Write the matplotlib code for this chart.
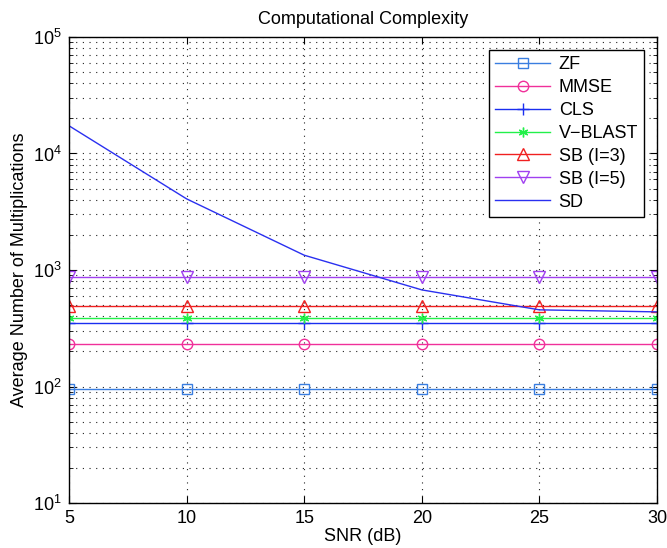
import matplotlib
matplotlib.use("Agg")
import matplotlib.pyplot as plt
import numpy as np
from matplotlib.ticker import LogLocator, NullFormatter

plt.rcParams['font.family'] = ['Liberation Sans', 'DejaVu Sans']

snr = [5, 10, 15, 20, 25, 30]
zf = [96, 96, 96, 96, 96, 96]
mmse = [233, 233, 233, 233, 233, 233]
cls = [352, 352, 352, 352, 352, 352]
vblast = [391, 391, 391, 391, 391, 391]
sb3 = [492, 492, 492, 492, 492, 492]
sb5 = [871, 871, 871, 871, 871, 871]
sd = [17300, 4080, 1340, 675, 455, 437]

fig = plt.figure(figsize=(6.67, 5.48), dpi=100)
ax = fig.add_axes([0.1034, 0.0821, 0.8816, 0.8504])

ms = 7
ax.semilogy(snr, zf, color='#3a7ee0', marker='s', mfc='none', ms=6.5, lw=1, label='ZF')
ax.semilogy(snr, mmse, color='#f0309a', marker='o', mfc='none', ms=ms + 0.5, lw=1, label='MMSE')
ax.semilogy(snr, cls, color='#1a2ef0', marker='+', ms=9, lw=1, label='CLS')
ax.semilogy(snr, vblast, color='#22f04a', marker=(6, 2, 0), ms=ms, lw=1, mew=1, label='V\u2212BLAST')
ax.semilogy(snr, sb3, color='#f02020', marker='^', mfc='none', ms=ms + 1, lw=1, label='SB (I=3)')
ax.semilogy(snr, sb5, color='#a040f0', marker='v', mfc='none', ms=ms + 1, lw=1, label='SB (I=5)')
ax.semilogy(snr, sd, color='#2a30f0', lw=1, label='SD')

ax.set_xlim(5, 30)
ax.set_ylim(10, 1e5)
ax.set_xticks([5, 10, 15, 20, 25, 30])
ax.yaxis.set_major_locator(LogLocator(base=10, numticks=10))
ax.yaxis.set_minor_locator(LogLocator(base=10, subs=np.arange(2, 10), numticks=20))
ax.yaxis.set_minor_formatter(NullFormatter())

gkw = dict(linestyle=(0, (1, 5)), color='#222222', lw=0.8)
ax.grid(True, which='major', **gkw)
ax.grid(True, which='minor', axis='y', **gkw)
ax.tick_params(which='both', direction='in', top=True, right=True, labelsize=13)
ax.tick_params(which='major', length=5, pad=5)
ax.tick_params(which='minor', length=3)
for s in ax.spines.values():
    s.set_linewidth(1)

ax.set_xlabel('SNR (dB)', fontsize=13, labelpad=1)
ax.set_ylabel('Average Number of Multiplications', fontsize=13, labelpad=4)
ax.set_title('Computational Complexity', fontsize=13, pad=9)

leg = ax.legend(loc='upper right', fontsize=13, fancybox=False, edgecolor='black',
                framealpha=1, handlelength=3.0, handletextpad=0.5,
                borderaxespad=0.7, labelspacing=0.33, borderpad=0.35)
leg.get_frame().set_linewidth(1)

fig.savefig('out.png', dpi=100)
